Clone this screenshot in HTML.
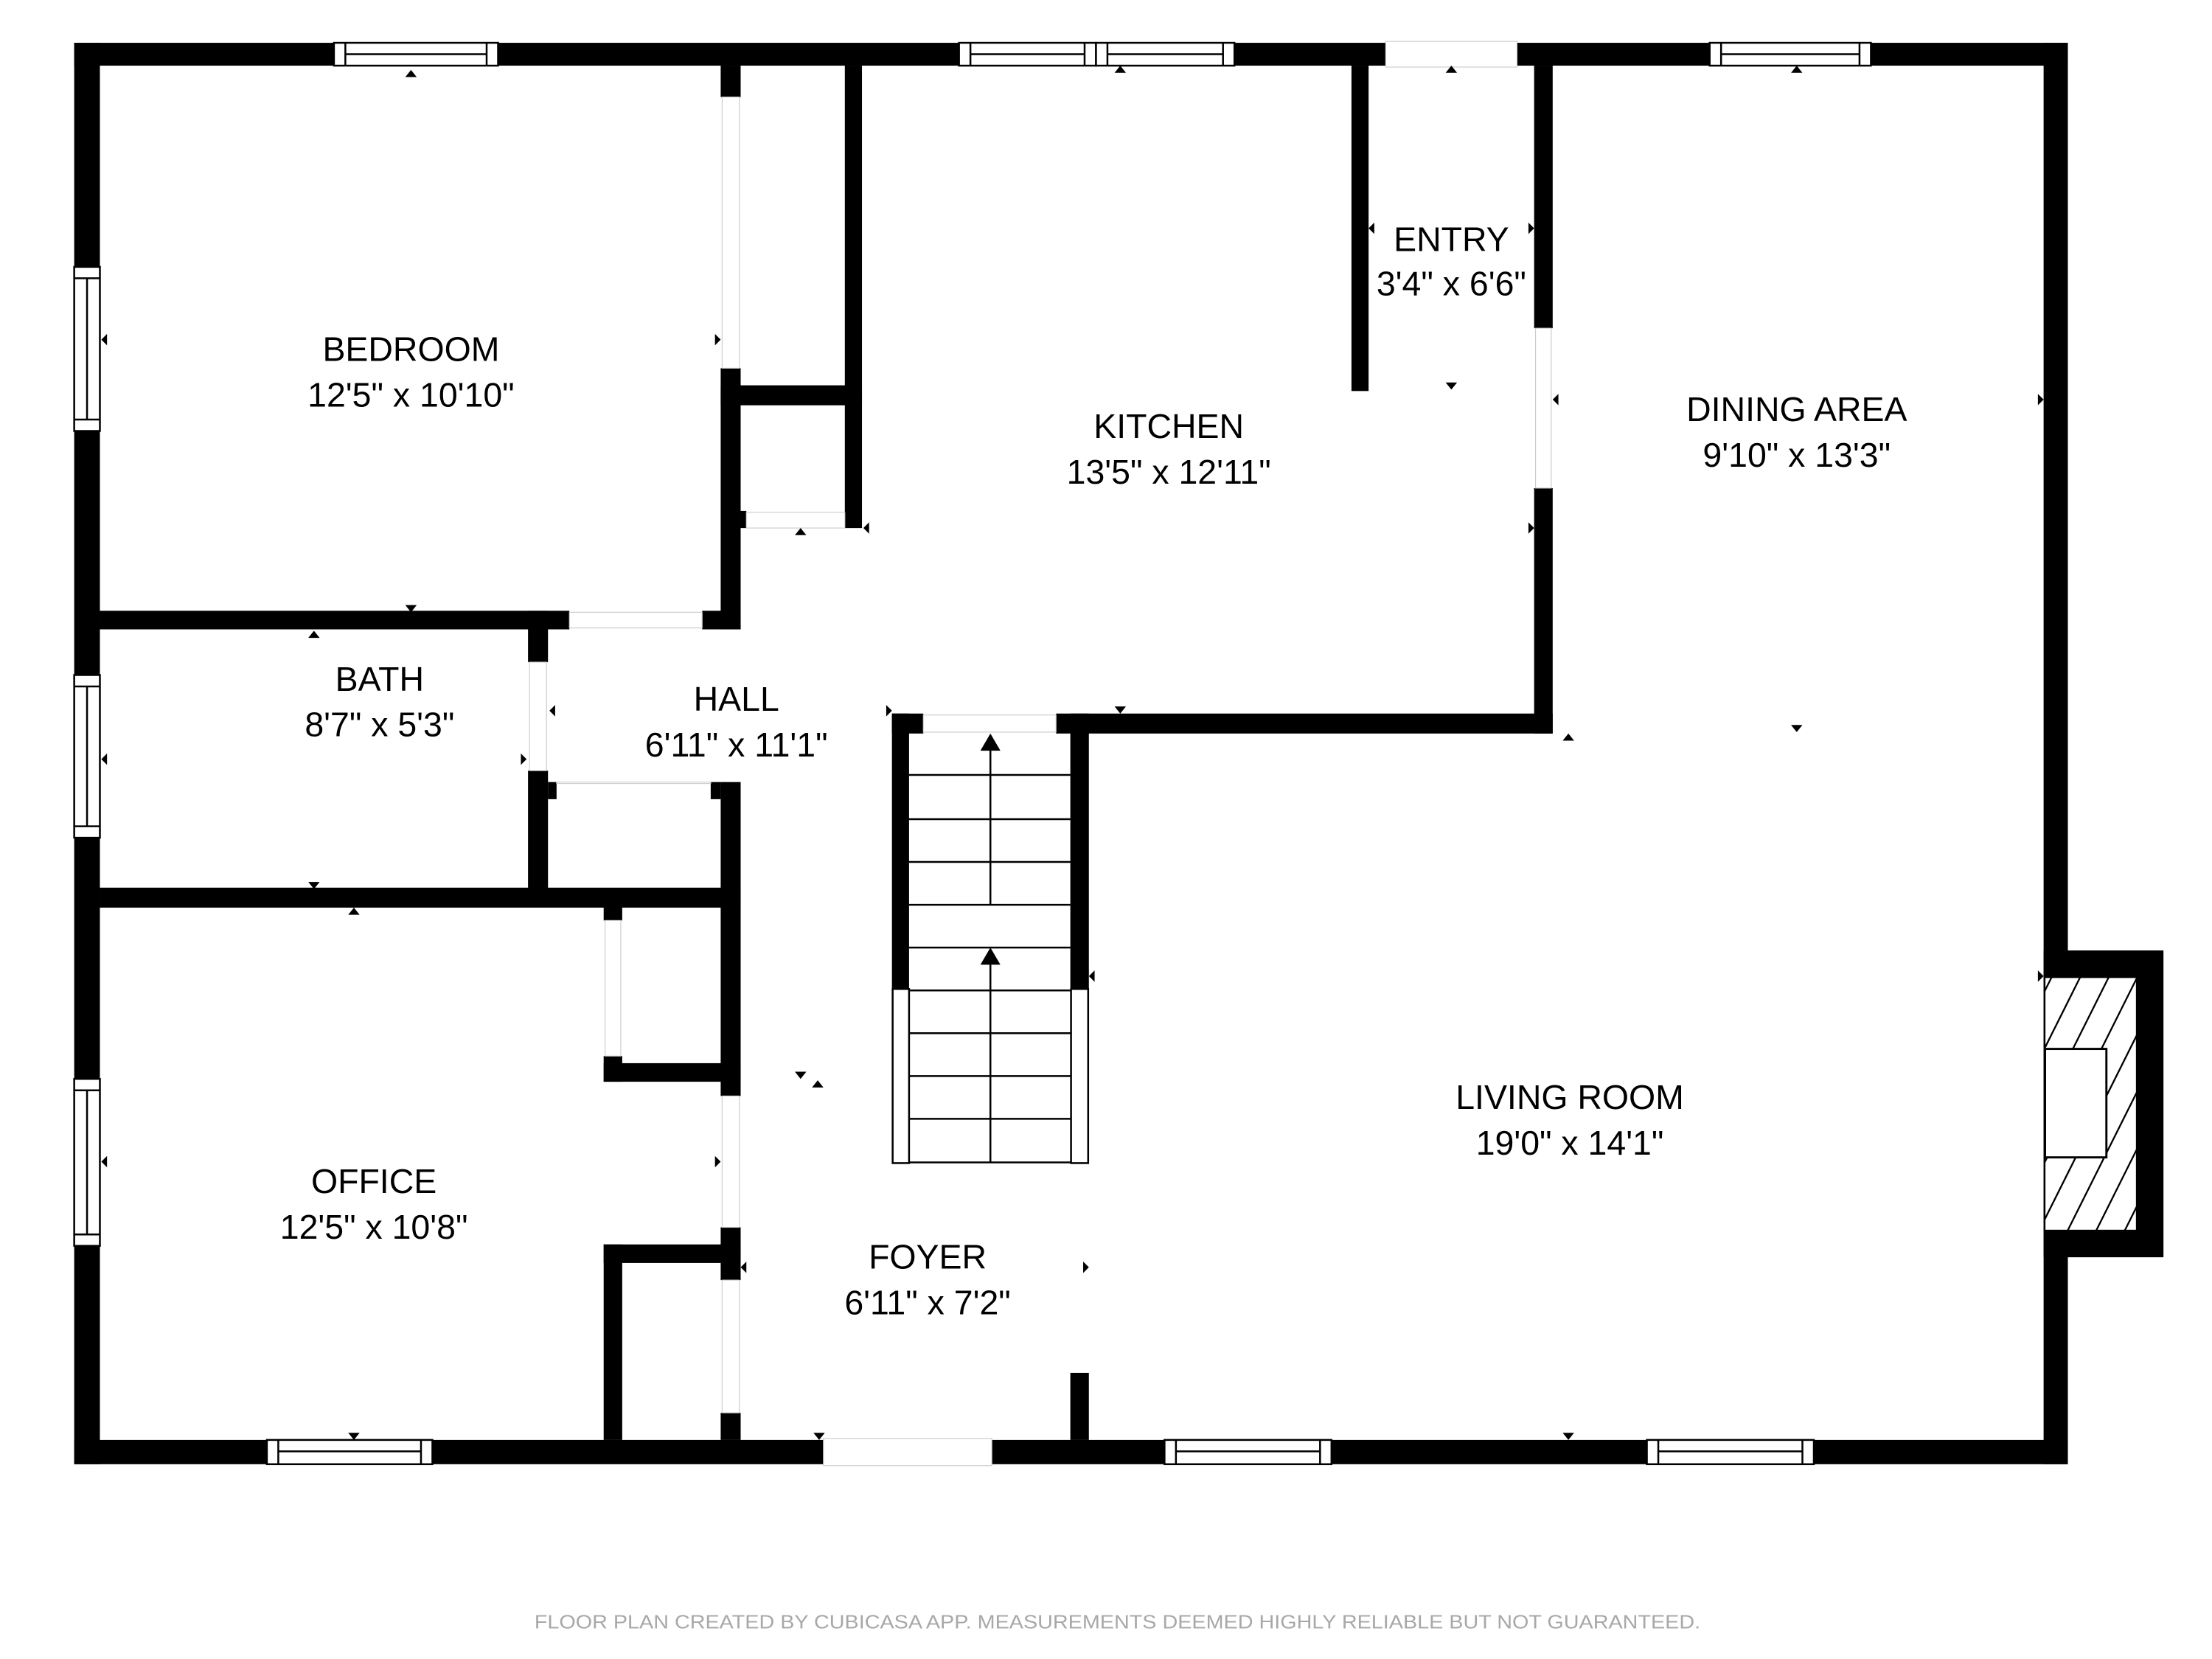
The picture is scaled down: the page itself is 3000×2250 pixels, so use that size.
<!DOCTYPE html>
<html><head><meta charset="utf-8"><style>
html,body{margin:0;padding:0;background:#fff;}
svg{display:block;}
text{font-family:"Liberation Sans",Arial,sans-serif;}
</style></head><body>
<svg width="3000" height="2250" viewBox="0 0 1550 1162.5" xmlns="http://www.w3.org/2000/svg">
<rect width="1550" height="1162.5" fill="#fff"/>
<g fill="#000">
<!-- outer walls -->
<rect x="52" y="30" width="1397" height="16"/>
<rect x="52" y="30" width="18" height="996"/>
<rect x="52" y="1009" width="1397" height="17"/>
<rect x="1432" y="30" width="17" height="996"/>
<!-- fireplace -->
<rect x="1432" y="666" width="84" height="215"/>
<!-- bedroom -->
<rect x="505" y="46" width="14" height="22"/>
<rect x="505" y="258" width="14" height="183"/>
<rect x="70" y="428" width="329" height="13"/>
<rect x="492" y="428" width="27" height="13"/>
<!-- closet -->
<rect x="592" y="46" width="12" height="324"/>
<rect x="505" y="270" width="99" height="14"/>
<rect x="519" y="358" width="4" height="12"/>
<!-- bath -->
<rect x="370" y="428" width="14" height="36"/>
<rect x="370" y="540" width="14" height="94"/>
<rect x="70" y="622" width="449" height="14"/>
<!-- hall closet -->
<rect x="384" y="548" width="6" height="12"/>
<rect x="498" y="548" width="7" height="12"/>
<rect x="505" y="548" width="14" height="220"/>
<!-- office closets -->
<rect x="423" y="634" width="13" height="11"/>
<rect x="423" y="740" width="13" height="18"/>
<rect x="423" y="745" width="96" height="13"/>
<rect x="423" y="872" width="96" height="13"/>
<rect x="423" y="872" width="13" height="137"/>
<rect x="505" y="860" width="14" height="37"/>
<rect x="505" y="990" width="14" height="19"/>
<!-- kitchen / entry -->
<rect x="947" y="46" width="12" height="228"/>
<rect x="1075" y="46" width="13" height="184"/>
<rect x="1075" y="342" width="13" height="172"/>
<rect x="740" y="500" width="348" height="14"/>
<!-- stairs walls -->
<rect x="625" y="500" width="22" height="14"/>
<rect x="625" y="500" width="12" height="193"/>
<rect x="750" y="500" width="13" height="193"/>
<!-- living stub -->
<rect x="750" y="962" width="13" height="47"/>
</g>
<!-- openings (white) -->
<g fill="#fff" stroke="#ccc" stroke-width="0.6">
<rect x="971" y="29" width="92" height="18"/>
<rect x="577" y="1008" width="118" height="19"/>
<rect x="506" y="68" width="12" height="190"/>
<rect x="399" y="429" width="93" height="11"/>
<rect x="371" y="464" width="12" height="76"/>
<rect x="1076" y="230" width="11" height="112"/>
<rect x="523" y="359" width="69" height="11"/>
<rect x="390" y="548" width="108" height="1"/>
<rect x="424" y="645" width="11" height="95"/>
<rect x="506" y="768" width="12" height="92"/>
<rect x="506" y="897" width="12" height="93"/>
<rect x="647" y="501" width="93" height="12"/>
</g>
<!-- windows -->
<g fill="#fff" stroke="#000" stroke-width="1.3">
<rect x="234" y="30" width="115" height="16"/><line x1="242" y1="30" x2="242" y2="46"/><line x1="341" y1="30" x2="341" y2="46"/><line x1="242" y1="38" x2="341" y2="38"/>
<rect x="672" y="30" width="96" height="16"/><line x1="680" y1="30" x2="680" y2="46"/><line x1="760" y1="30" x2="760" y2="46"/><line x1="680" y1="38" x2="760" y2="38"/>
<rect x="768" y="30" width="97" height="16"/><line x1="776" y1="30" x2="776" y2="46"/><line x1="857" y1="30" x2="857" y2="46"/><line x1="776" y1="38" x2="857" y2="38"/>
<rect x="1198" y="30" width="113" height="16"/><line x1="1206" y1="30" x2="1206" y2="46"/><line x1="1303" y1="30" x2="1303" y2="46"/><line x1="1206" y1="38" x2="1303" y2="38"/>
<rect x="187" y="1009" width="116" height="17"/><line x1="195" y1="1009" x2="195" y2="1026"/><line x1="295" y1="1009" x2="295" y2="1026"/><line x1="195" y1="1017" x2="295" y2="1017"/>
<rect x="816" y="1009" width="117" height="17"/><line x1="824" y1="1009" x2="824" y2="1026"/><line x1="925" y1="1009" x2="925" y2="1026"/><line x1="824" y1="1017" x2="925" y2="1017"/>
<rect x="1154" y="1009" width="117" height="17"/><line x1="1162" y1="1009" x2="1162" y2="1026"/><line x1="1263" y1="1009" x2="1263" y2="1026"/><line x1="1162" y1="1017" x2="1263" y2="1017"/>
<rect x="52" y="187" width="18" height="115"/><line x1="52" y1="195" x2="70" y2="195"/><line x1="52" y1="294" x2="70" y2="294"/><line x1="61" y1="195" x2="61" y2="294"/>
<rect x="52" y="473" width="18" height="114"/><line x1="52" y1="481" x2="70" y2="481"/><line x1="52" y1="579" x2="70" y2="579"/><line x1="61" y1="481" x2="61" y2="579"/>
<rect x="52" y="756" width="18" height="117"/><line x1="52" y1="764" x2="70" y2="764"/><line x1="52" y1="865" x2="70" y2="865"/><line x1="61" y1="764" x2="61" y2="865"/>
</g>
<!-- fireplace interior -->
<defs><clipPath id="fp"><rect x="1433" y="685" width="64" height="177"/></clipPath></defs>
<rect x="1433" y="685" width="64" height="177" fill="#fff" stroke="#000" stroke-width="0.6"/>
<g clip-path="url(#fp)" stroke="#000" stroke-width="1.2">
<line x1="1420" y1="720" x2="1460" y2="640"/><line x1="1420" y1="760" x2="1480" y2="640"/><line x1="1420" y1="800" x2="1500" y2="640"/>
<line x1="1420" y1="840" x2="1510" y2="660"/><line x1="1420" y1="880" x2="1510" y2="700"/><line x1="1440" y1="880" x2="1510" y2="740"/>
<line x1="1460" y1="880" x2="1510" y2="780"/><line x1="1480" y1="880" x2="1510" y2="820"/>
</g>
<rect x="1433" y="735" width="43" height="76" fill="#fff" stroke="#000" stroke-width="1.5"/>
<!-- stairs -->
<g stroke="#000" stroke-width="1.3" fill="#fff">
<rect x="625.5" y="693" width="11.5" height="122"/>
<rect x="750.5" y="693" width="12" height="122"/>
<line x1="637" y1="543" x2="750" y2="543"/><line x1="637" y1="574" x2="750" y2="574"/>
<line x1="637" y1="604" x2="750" y2="604"/><line x1="637" y1="634" x2="750" y2="634"/>
<line x1="637" y1="664" x2="750" y2="664"/><line x1="637" y1="694" x2="750" y2="694"/>
<line x1="637" y1="724" x2="750" y2="724"/><line x1="637" y1="754" x2="750" y2="754"/>
<line x1="637" y1="784" x2="750" y2="784"/><line x1="637" y1="814.5" x2="750" y2="814.5"/>
<line x1="694" y1="520" x2="694" y2="634"/><line x1="694" y1="670" x2="694" y2="815"/>
</g>
<g fill="#000">
<polygon points="694,514 687,526 701,526"/><polygon points="694,664 687,676 701,676"/>
</g>
<!-- small markers -->
<g fill="#000">
<polygon points="288,49 284,54 292,54"/>
<polygon points="71,238 75,234 75,242"/>
<polygon points="505,238 501,234 501,242"/>
<polygon points="288,429 284,424 292,424"/>
<polygon points="220,442 216,447 224,447"/>
<polygon points="71,532 75,528 75,536"/>
<polygon points="369,532 365,528 365,536"/>
<polygon points="385,498 389,494 389,502"/>
<polygon points="220,623 216,618 224,618"/>
<polygon points="248,636 244,641 252,641"/>
<polygon points="71,814 75,810 75,818"/>
<polygon points="505,814 501,810 501,818"/>
<polygon points="248,1009 244,1004 252,1004"/>
<polygon points="561,370 557,375 565,375"/>
<polygon points="605,370 609,366 609,374"/>
<polygon points="625,498 621,494 621,502"/>
<polygon points="785,500 781,495 789,495"/>
<polygon points="785,46 781,51 789,51"/>
<polygon points="1017,46 1013,51 1021,51"/>
<polygon points="959,160 963,156 963,164"/>
<polygon points="1075,160 1071,156 1071,164"/>
<polygon points="1017,273 1013,268 1021,268"/>
<polygon points="1088,280 1092,276 1092,284"/>
<polygon points="1432,280 1428,276 1428,284"/>
<polygon points="1259,46 1255,51 1263,51"/>
<polygon points="1075,370 1071,366 1071,374"/>
<polygon points="1099,514 1095,519 1103,519"/>
<polygon points="1259,513 1255,508 1263,508"/>
<polygon points="763,684 767,680 767,688"/>
<polygon points="1432,684 1428,680 1428,688"/>
<polygon points="1099,1009 1095,1004 1103,1004"/>
<polygon points="561,756 557,751 565,751"/>
<polygon points="573,757 569,762 577,762"/>
<polygon points="519,888 523,884 523,892"/>
<polygon points="763,888 759,884 759,892"/>
<polygon points="574,1009 570,1004 578,1004"/>
</g>
<!-- labels -->
<g font-size="24" text-anchor="middle" fill="#000">
<text x="288" y="253">BEDROOM</text><text x="288" y="285">12'5" x 10'10"</text>
<text x="266" y="484">BATH</text><text x="266" y="516">8'7" x 5'3"</text>
<text x="516" y="498">HALL</text><text x="516" y="530">6'11" x 11'1"</text>
<text x="819" y="307">KITCHEN</text><text x="819" y="339">13'5" x 12'11"</text>
<text x="1017" y="176">ENTRY</text><text x="1017" y="207">3'4" x 6'6"</text>
<text x="1259" y="295">DINING AREA</text><text x="1259" y="327">9'10" x 13'3"</text>
<text x="262" y="836">OFFICE</text><text x="262" y="868">12'5" x 10'8"</text>
<text x="650" y="889">FOYER</text><text x="650" y="921">6'11" x 7'2"</text>
<text x="1100" y="777">LIVING ROOM</text><text x="1100" y="809">19'0" x 14'1"</text>
</g>
<text x="783" y="1141" font-size="13.5" text-anchor="middle" fill="#a8a8a8" textLength="817" lengthAdjust="spacingAndGlyphs">FLOOR PLAN CREATED BY CUBICASA APP. MEASUREMENTS DEEMED HIGHLY RELIABLE BUT NOT GUARANTEED.</text>
</svg>
</body></html>
